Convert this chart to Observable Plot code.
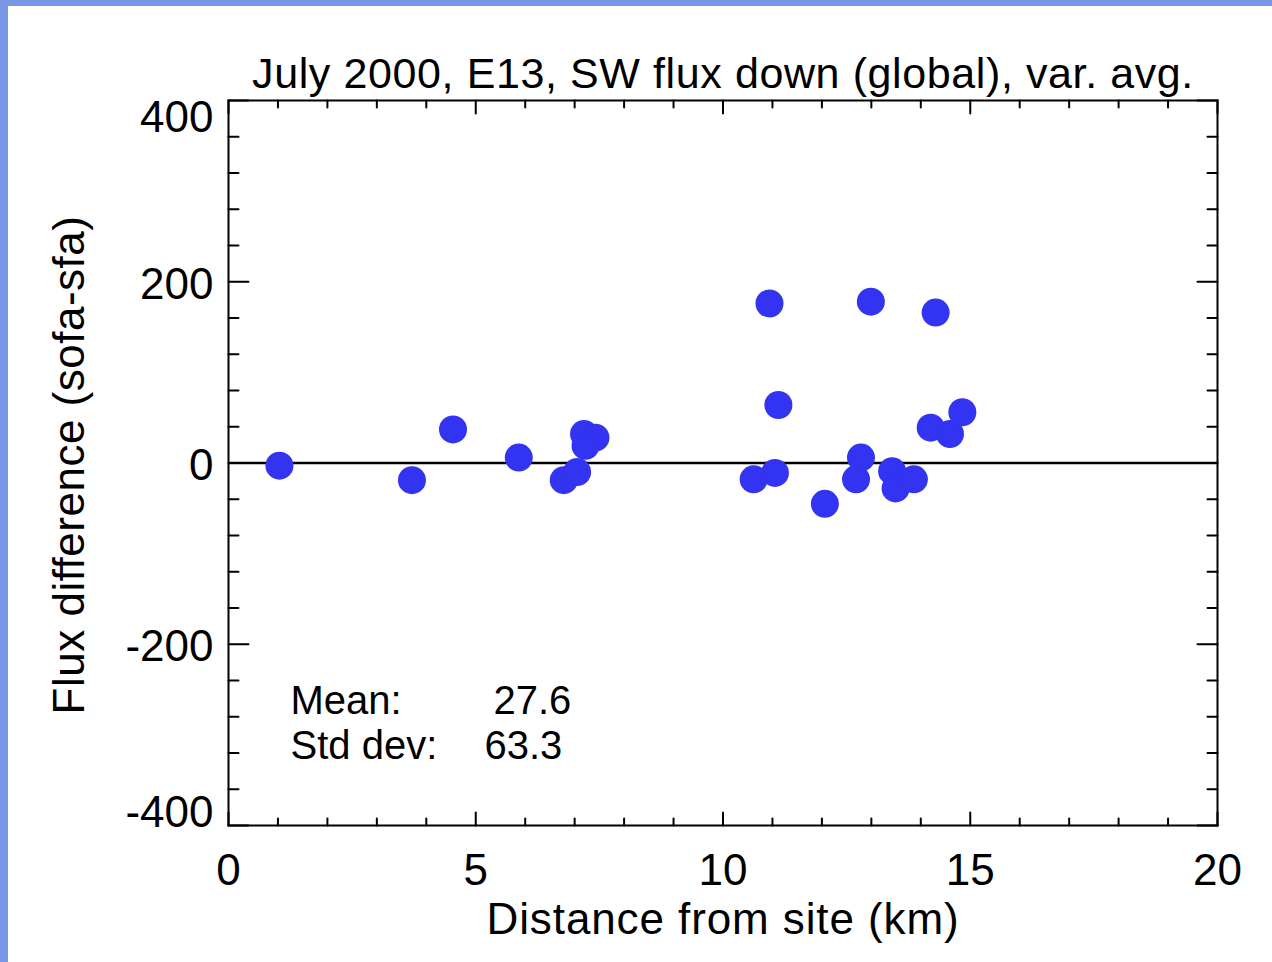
<!DOCTYPE html>
<html><head><meta charset="utf-8">
<script src="https://cdn.jsdelivr.net/npm/d3@7"></script>
<script src="https://cdn.jsdelivr.net/npm/@observablehq/plot@0.6"></script>
<style>
body{margin:0;background:#fff;}
#wrap{position:relative;width:1272px;height:962px;overflow:hidden;background:#fff;}
#wrap svg{position:absolute;left:0;top:0;}
.edge{position:absolute;background:#7a97e6;}
</style></head><body>
<div id="wrap"></div>
<script>
// Data
const distance = [1.03, 3.71, 4.54, 5.87, 6.78, 7.05, 7.19, 7.42, 7.22,
  10.94, 12.99, 14.30, 11.12, 14.20, 14.59, 14.84,
  10.62, 11.05, 12.06, 12.79, 12.69, 13.42, 13.49, 13.86];
const fluxDiff = [-3, -19, 37, 6, -19, -10, 32, 28, 19,
  176, 178, 166, 64, 39, 32, 56,
  -18, -11, -45, 6, -18, -9, -28, -18];

const xMajor = [0, 5, 10, 15, 20];
const xMinor = [1, 2, 3, 4, 6, 7, 8, 9, 11, 12, 13, 14, 16, 17, 18, 19];
const yMajor = [-400, -200, 0, 200, 400];
const yMinor = [-360, -320, -280, -240, -160, -120, -80, -40, 40, 80, 120, 160, 240, 280, 320, 360];

const titleText = "July 2000, E13, SW flux down (global), var. avg.";
const xLabel = "Distance from site (km)";
const yLabel = "Flux difference (sofa-sfa)";
const statNames = ["Mean:", "Std dev:"];
const statValues = ["27.6", "63.3"];

const points = distance.map((d, i) => ({distance: d, diff: fluxDiff[i]}));

const tickShape = {draw(context, l) { context.moveTo(0, 0); context.lineTo(0, -l); }};
const FONT = "'Liberation Sans', Arial, Helvetica, sans-serif";

function ticks(data, channel, frameAnchor, rotate, length) {
  const o = {frameAnchor, rotate, length, anchor: "start", shape: tickShape, stroke: "#000", strokeWidth: 2};
  o[channel] = d => d;
  return Plot.vector(data, o);
}

const chart = Plot.plot({
  width: 1272,
  height: 962,
  marginLeft: 228,
  marginRight: 55,
  marginTop: 100,
  marginBottom: 137,
  style: {fontFamily: FONT, background: "transparent", color: "#000"},
  x: {domain: [0, 20], axis: null},
  y: {domain: [-400, 400], axis: null},
  marks: [
    Plot.ruleY([0], {stroke: "#000", strokeWidth: 2.5}),
    Plot.dot(points, {x: "distance", y: "diff", r: 14, fill: "#3333f2", stroke: null}),
    Plot.frame({stroke: "#000", strokeWidth: 2}),
    ticks(xMajor, "x", "bottom", 0, 13),
    ticks(xMinor, "x", "bottom", 0, 7),
    ticks(xMajor, "x", "top", 180, 13),
    ticks(xMinor, "x", "top", 180, 7),
    ticks(yMajor, "y", "left", 90, 20),
    ticks(yMinor, "y", "left", 90, 10),
    ticks(yMajor, "y", "right", -90, 20),
    ticks(yMinor, "y", "right", -90, 10),
    // x tick labels
    Plot.text(xMajor, {x: d => d, frameAnchor: "bottom", dy: 59, textAnchor: "middle", lineAnchor: "bottom", text: d => String(d), fontSize: 44, fill: "#000"}),
    // y tick labels
    Plot.text(yMajor.filter(d => d === 400), {y: d => d, frameAnchor: "left", dx: -15, dy: 31, textAnchor: "end", lineAnchor: "bottom", text: d => String(d), fontSize: 44, fill: "#000"}),
    Plot.text(yMajor.filter(d => d > -400 && d < 400), {y: d => d, frameAnchor: "left", dx: -15, dy: 17, textAnchor: "end", lineAnchor: "bottom", text: d => String(d), fontSize: 44, fill: "#000"}),
    Plot.text(yMajor.filter(d => d === -400), {y: d => d, frameAnchor: "left", dx: -15, dy: 1, textAnchor: "end", lineAnchor: "bottom", text: d => String(d), fontSize: 44, fill: "#000"}),
    // title
    Plot.text([titleText], {frameAnchor: "top", dy: -13, textAnchor: "middle", lineAnchor: "bottom", text: d => d, fontSize: 43, fill: "#000"}),
    // axis labels
    Plot.text([xLabel], {frameAnchor: "bottom", dy: 108, textAnchor: "middle", lineAnchor: "bottom", text: d => d, fontSize: 44, fill: "#000"}),
    Plot.text([yLabel], {frameAnchor: "left", dx: -145, dy: 2, rotate: -90, textAnchor: "middle", lineAnchor: "bottom", text: d => d, fontSize: 42, fill: "#000"}),
    // stats annotation
    Plot.text([statNames[0]], {frameAnchor: "bottom-left", dx: 62, dy: -112, textAnchor: "start", lineAnchor: "bottom", text: d => d, fontSize: 40, fill: "#000"}),
    Plot.text([statValues[0]], {frameAnchor: "bottom-left", dx: 265, dy: -112, textAnchor: "start", lineAnchor: "bottom", text: d => d, fontSize: 40, fill: "#000"}),
    Plot.text([statNames[1]], {frameAnchor: "bottom-left", dx: 62, dy: -67, textAnchor: "start", lineAnchor: "bottom", text: d => d, fontSize: 40, fill: "#000"}),
    Plot.text([statValues[1]], {frameAnchor: "bottom-left", dx: 256, dy: -67, textAnchor: "start", lineAnchor: "bottom", text: d => d, fontSize: 40, fill: "#000"})
  ]
});

// letter spacing for the wider-set labels
const spacing = new Map([[titleText, "0.6px"], [xLabel, "0.9px"], [yLabel, "0.5px"]]);
chart.querySelectorAll("text").forEach(t => {
  const s = spacing.get(t.textContent);
  if (s) t.style.letterSpacing = s;
  if (t.textContent === yLabel) t.style.fontSize = "44px";
});

const wrap = document.getElementById("wrap");
wrap.appendChild(chart);
const topEdge = document.createElement("div");
topEdge.className = "edge"; topEdge.style.cssText = "left:0;top:0;width:1272px;height:6px;";
const leftEdge = document.createElement("div");
leftEdge.className = "edge"; leftEdge.style.cssText = "left:0;top:0;width:8px;height:962px;";
wrap.appendChild(topEdge); wrap.appendChild(leftEdge);
</script>
</body></html>
